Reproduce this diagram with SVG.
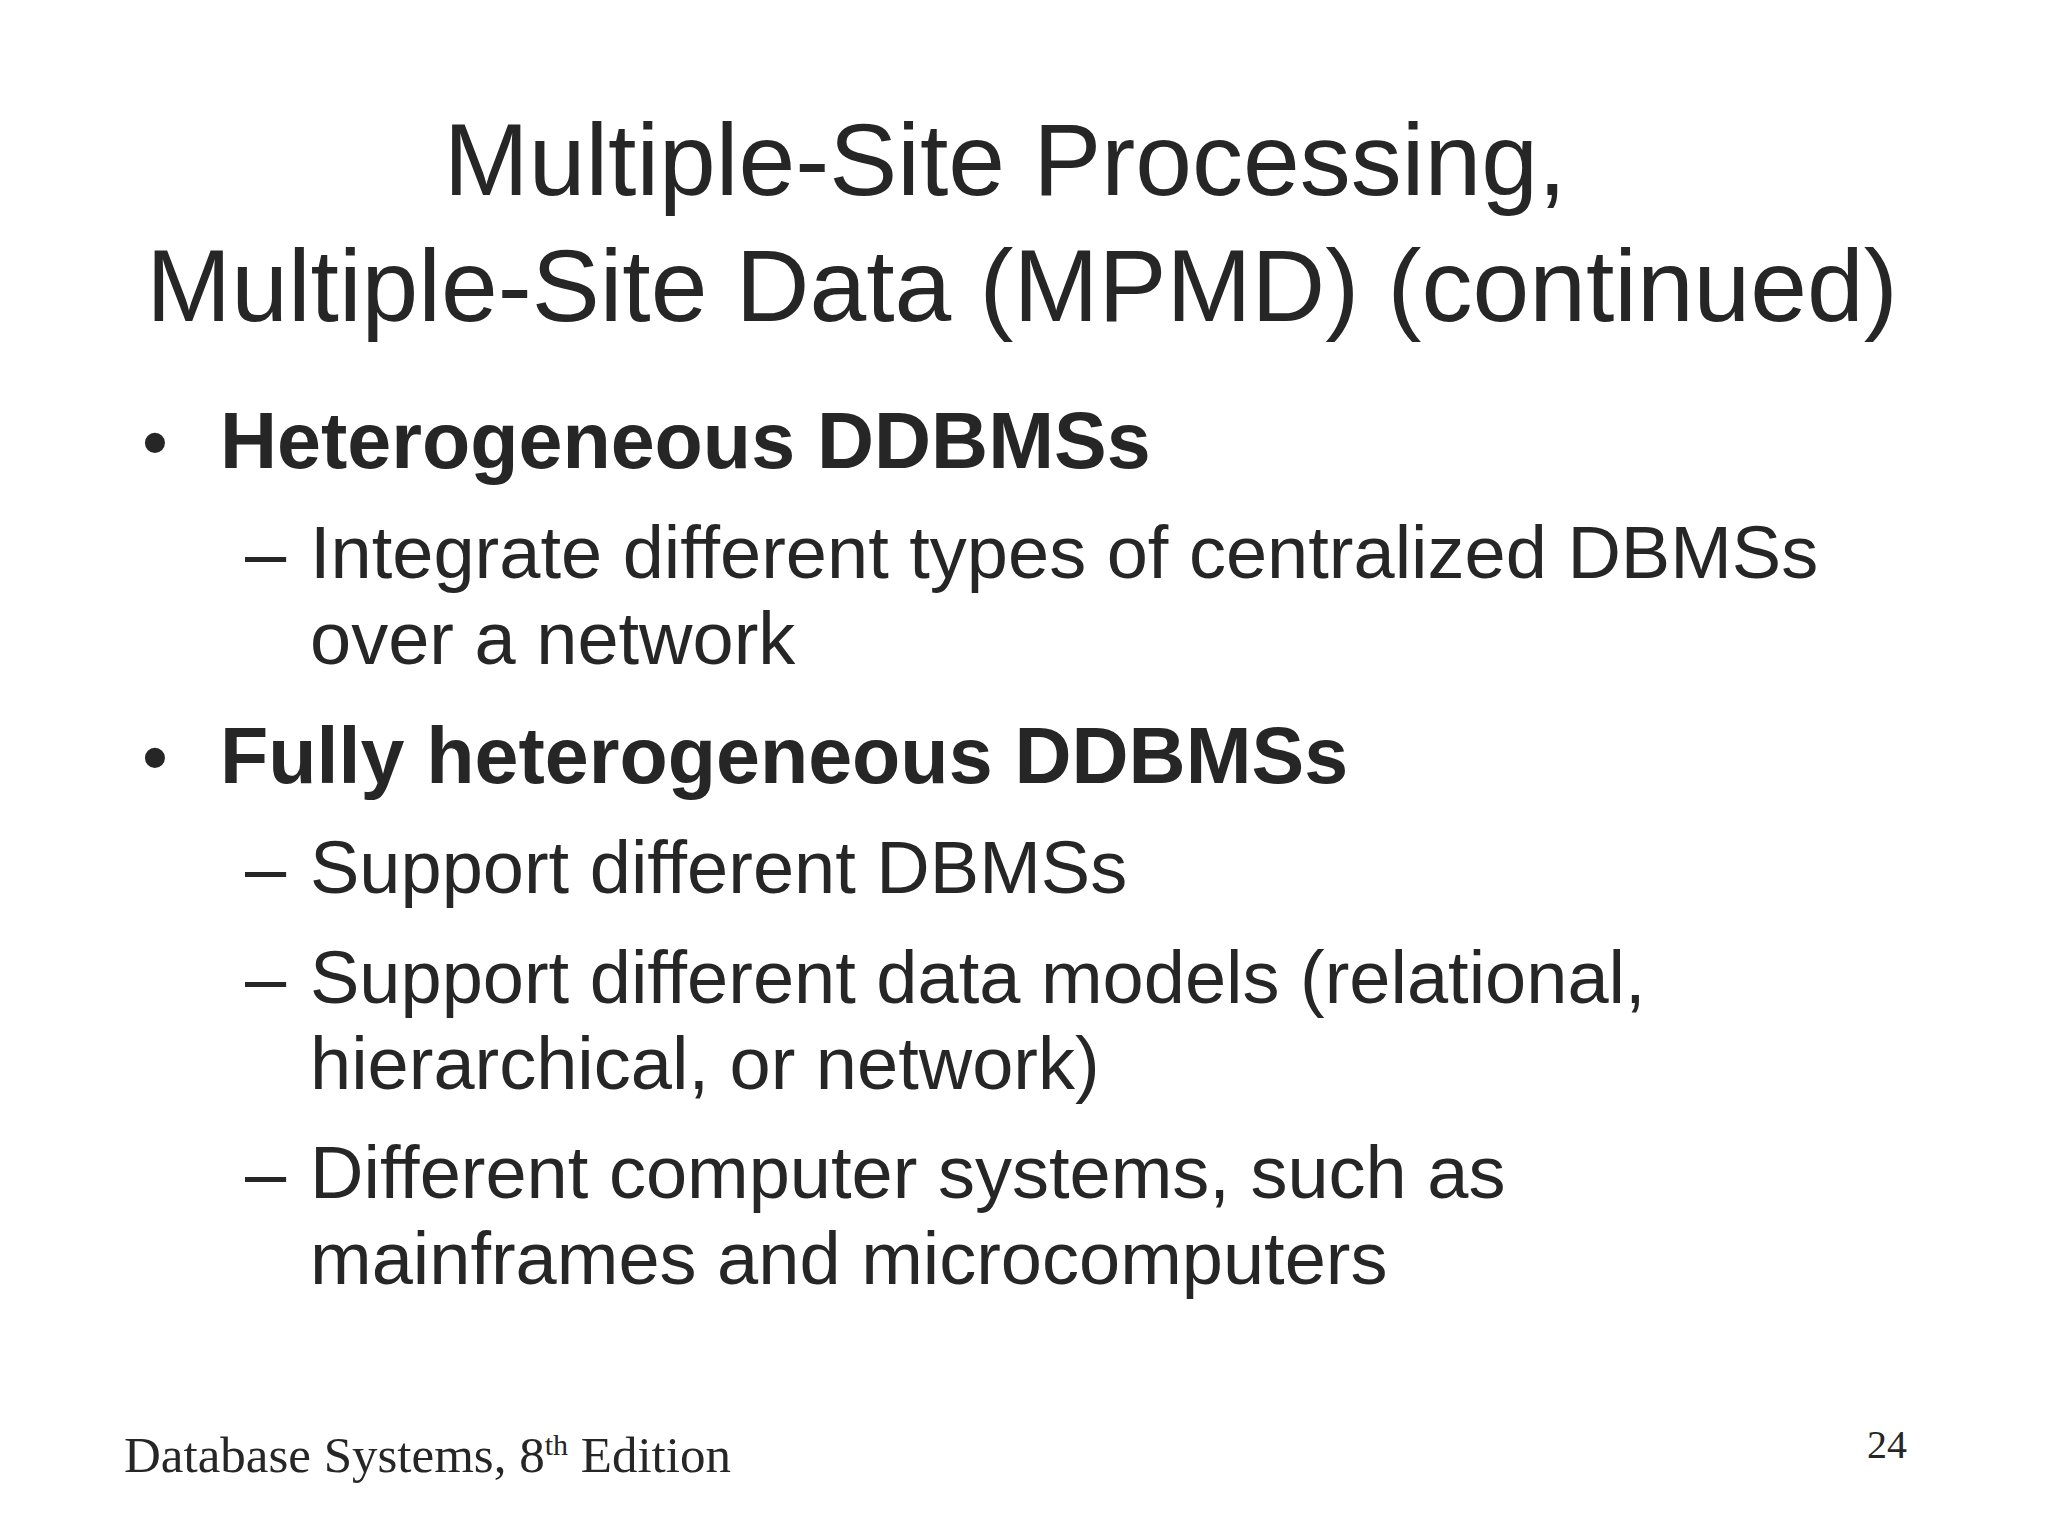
<svg xmlns="http://www.w3.org/2000/svg" width="2048" height="1536" viewBox="0 0 2048 1536">
<style>
.t{font-family:"Liberation Sans",Arial,sans-serif;fill:#262626}
.ti{font-size:102px}
.b{font-size:79px;font-weight:bold}
.s{font-size:74px}
.f{font-family:"Liberation Serif","Times New Roman",serif;fill:#262626}
</style>
<rect width="2048" height="1536" fill="#fff"/>
<g id="title" class="t ti" text-anchor="middle">
<text x="1005" y="195">Multiple-Site Processing,</text>
<text x="1022" y="321">Multiple-Site Data (MPMD) (continued)</text>
</g>
<g id="body" class="t">
<text x="142" y="468" class="s">•</text>
<text x="220" y="468" class="b">Heterogeneous DDBMSs</text>
<text x="245" y="578" class="s">–</text>
<text x="310" y="578" class="s">Integrate different types of centralized DBMSs</text>
<text x="310" y="664" class="s">over a network</text>
<text x="142" y="783" class="s">•</text>
<text x="220" y="783" class="b">Fully heterogeneous DDBMSs</text>
<text x="245" y="893" class="s">–</text>
<text x="310" y="893" class="s">Support different DBMSs</text>
<text x="245" y="1003" class="s">–</text>
<text x="310" y="1003" class="s">Support different data models (relational,</text>
<text x="310" y="1089" class="s">hierarchical, or network)</text>
<text x="245" y="1198" class="s">–</text>
<text x="310" y="1198" class="s">Different computer systems, such as</text>
<text x="310" y="1284" class="s">mainframes and microcomputers</text>
</g>
<g id="footer" class="f">
<text x="124" y="1472" font-size="51">Database Systems, 8<tspan font-size="30" dy="-17">th</tspan><tspan dy="17"> Edition</tspan></text>
<text x="1927" y="1458" font-size="40" text-anchor="end" transform="translate(-20 0)">24</text>
</g>
</svg>
